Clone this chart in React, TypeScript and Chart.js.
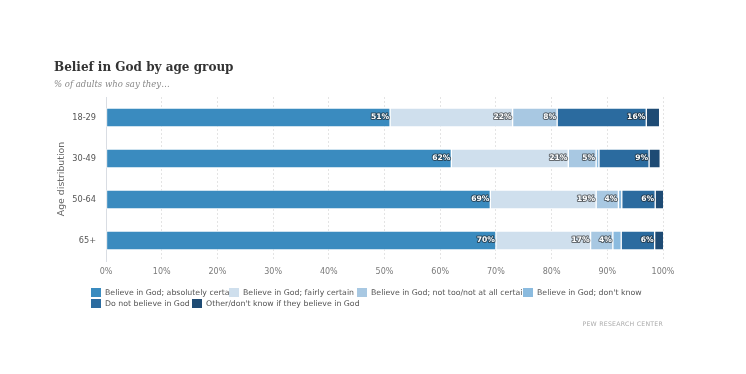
import React, { useEffect, useRef } from 'react';
import { Chart, registerables } from 'chart.js';

Chart.register(...registerables);

// ---------- data ----------
const categories = ['18-29', '30-49', '50-64', '65+'];
const seriesNames = [
  'Believe in God; absolutely certain',
  'Believe in God; fairly certain',
  'Believe in God; not too/not at all certain',
  "Believe in God; don't know",
  'Do not believe in God',
  "Other/don't know if they believe in God",
];
const absolutelyCertain = [51, 62, 69, 70];
const fairlyCertain = [22, 21, 19, 17];
const notTooCertain = [8, 5, 4, 4];
const believeDontKnow = [0, 0.5, 0.6, 1.5];
const doNotBelieve = [16, 9, 6, 6];
const otherDontKnow = [2.4, 2, 1.8, 1.8];
const xTickValues = [0, 10, 20, 30, 40, 50, 60, 70, 80, 90, 100];
const titleText = 'Belief in God by age group';
const subtitleText = '% of adults who say they\u2026';
const yAxisTitle = 'Age distribution';
const creditText = 'PEW RESEARCH CENTER';

// ---------- styles ----------
const seriesColors = ['#3a8bbf', '#cfdfed', '#a8c8e2', '#8bbbdf', '#2b6b9f', '#1e4b74'];
const legendRows = [[0, 1, 2, 3], [4, 5]];
const legendItemWidths = [[138, 128, 166, 160], [101, 200]];
const SANS = '"DejaVu Sans", Verdana, sans-serif';
const SERIF = '"DejaVu Serif", Georgia, serif';

const seriesValues = [
  absolutelyCertain,
  fairlyCertain,
  notTooCertain,
  believeDontKnow,
  doNotBelieve,
  otherDontKnow,
];

const labelPlugin = {
  id: 'segmentLabels',
  afterDatasetsDraw(chart: any) {
    const ctx = chart.ctx;
    ctx.save();
    ctx.font = `bold 7.6px ${SANS}`;
    ctx.textAlign = 'right';
    ctx.textBaseline = 'middle';
    ctx.lineJoin = 'round';
    chart.data.datasets.forEach((ds: any, di: number) => {
      if (di >= 5) return;
      const meta = chart.getDatasetMeta(di);
      meta.data.forEach((el: any, i: number) => {
        const v = ds.data[i];
        if (v < 3) return;
        const txt = Math.round(v) + '%';
        const x = el.x - 1;
        const y = el.y;
        ctx.strokeStyle = 'rgba(30,30,30,0.6)';
        ctx.lineWidth = 2;
        ctx.strokeText(txt, x, y);
        ctx.fillStyle = '#ffffff';
        ctx.fillText(txt, x, y);
      });
    });
    ctx.restore();
  },
};

export default function App() {
  const canvasRef = useRef<HTMLCanvasElement | null>(null);

  useEffect(() => {
    const canvas = canvasRef.current;
    if (!canvas) return;
    const chart = new Chart(canvas, {
      type: 'bar',
      data: {
        labels: categories,
        datasets: seriesValues.map((vals, i) => ({
          label: seriesNames[i],
          data: vals,
          backgroundColor: seriesColors[i],
          borderColor: 'rgba(255,255,255,0.55)',
          borderWidth: 1,
          borderSkipped: false,
          barThickness: 19,
        })),
      },
      options: {
        indexAxis: 'y',
        animation: false,
        responsive: false,
        devicePixelRatio: 1,
        layout: { padding: { left: 0, top: 97, right: 83, bottom: 93 } },
        plugins: {
          legend: { display: false },
          title: { display: false },
          tooltip: { enabled: false },
        },
        scales: {
          x: {
            stacked: true,
            min: 0,
            max: 100,
            afterBuildTicks: (scale: any) => {
              scale.ticks = xTickValues.map((v) => ({ value: v }));
            },
            ticks: {
              callback: (v: any) => v + '%',
              color: '#7a7a7a',
              font: { family: SANS, size: 8 },
              padding: 6,
              maxRotation: 0,
              autoSkip: false,
            },
            grid: { color: '#e4e4e4', drawTicks: false, lineWidth: 1 },
            border: { display: false, dash: [2, 2] },
            afterFit: (scale: any) => {
              scale.height = 20;
            },
          },
          y: {
            stacked: true,
            ticks: {
              color: '#555555',
              font: { family: SANS, size: 8.2 },
              padding: 10,
            },
            grid: { display: false, drawTicks: false },
            border: { display: true, color: '#d9dde3', width: 1 },
            title: {
              display: true,
              text: yAxisTitle,
              color: '#666666',
              font: { family: SANS, size: 9.4, weight: 'normal' },
              padding: { top: 56, bottom: 0 },
            },
            afterFit: (scale: any) => {
              scale.width = 106;
            },
          },
        },
      },
      plugins: [labelPlugin],
    } as any);
    return () => chart.destroy();
  }, []);

  return (
    <div
      style={{
        position: 'fixed',
        left: 0,
        top: 0,
        width: 746,
        height: 374,
        background: '#ffffff',
        overflow: 'hidden',
      }}
    >
      <canvas
        ref={canvasRef}
        width={746}
        height={374}
        style={{ position: 'absolute', left: 0, top: 0, width: 746, height: 374 }}
      />
      <div
        style={{
          position: 'absolute',
          left: 54,
          top: 60.5,
          font: `bold 12px ${SERIF}`,
          lineHeight: '12px',
          color: '#333333',
          whiteSpace: 'nowrap',
        }}
      >
        {titleText}
      </div>
      <div
        style={{
          position: 'absolute',
          left: 54,
          top: 80,
          font: `italic 8.5px ${SERIF}`,
          lineHeight: '8.5px',
          color: '#888888',
          whiteSpace: 'nowrap',
        }}
      >
        {subtitleText}
      </div>
      {legendRows.map((row, ri) => {
        let left = 91;
        return row.map((si, k) => {
          const w = legendItemWidths[ri][k];
          const item = (
            <div
              key={si}
              style={{
                position: 'absolute',
                left,
                top: 287.2 + ri * 11,
                width: w,
                height: 11,
                display: 'flex',
                alignItems: 'center',
                overflow: 'hidden',
                whiteSpace: 'nowrap',
              }}
            >
              <span
                style={{
                  display: 'inline-block',
                  width: 10,
                  height: 9,
                  background: seriesColors[si],
                  marginRight: 4,
                  flex: '0 0 auto',
                }}
              />
              <span style={{ font: `7.8px ${SANS}`, lineHeight: '11px', color: '#555555' }}>
                {seriesNames[si]}
              </span>
            </div>
          );
          left += w;
          return item;
        });
      })}
      <div
        style={{
          position: 'absolute',
          right: 83,
          top: 319.8,
          font: `6.2px ${SANS}`,
          lineHeight: '7px',
          letterSpacing: '0.25px',
          color: '#aaaaaa',
          whiteSpace: 'nowrap',
        }}
      >
        {creditText}
      </div>
    </div>
  );
}
